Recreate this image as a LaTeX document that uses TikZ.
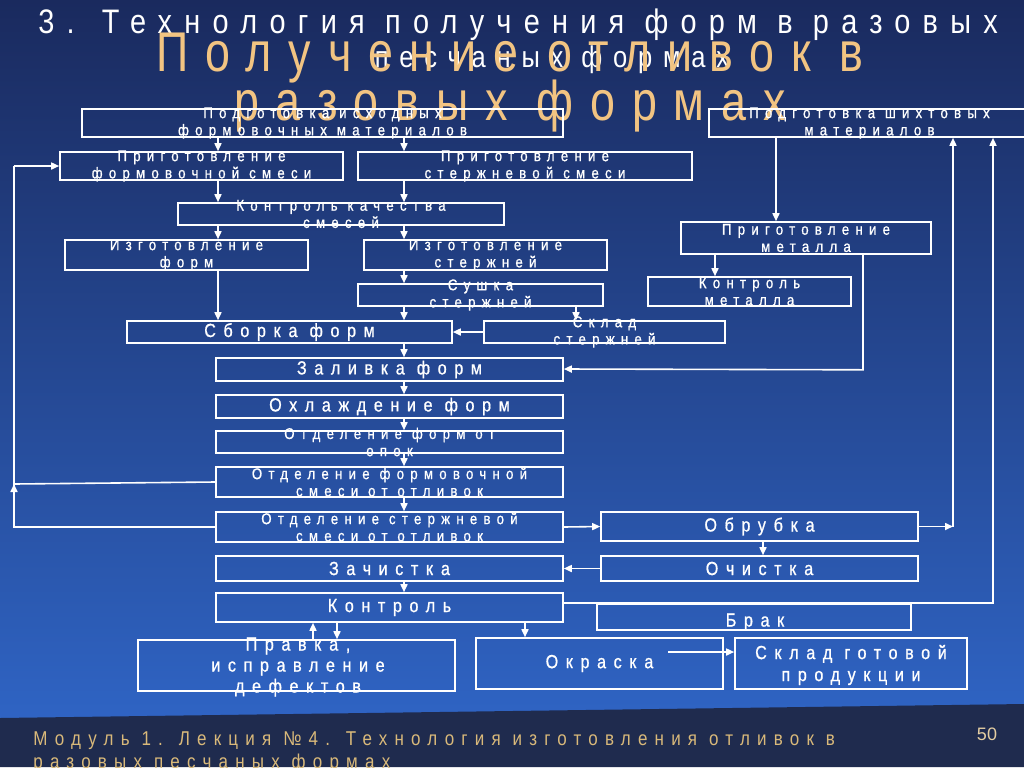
\documentclass[tikz,border=0pt]{standalone}
\usepackage{fontspec}
\setmainfont{Liberation Sans}
\newfontfamily\spc[LetterSpace=40,FakeStretch=0.85,FakeBold=0.8]{Liberation Sans}
\newfontfamily\spt[LetterSpace=36,FakeStretch=0.85]{Liberation Sans}
\newfontfamily\spo[LetterSpace=30,FakeStretch=0.8]{Liberation Sans}
\usetikzlibrary{fit,arrows.meta}
\definecolor{bgtop}{HTML}{1A2A5E}
\definecolor{bgbot}{HTML}{2F64C4}
\definecolor{foot}{HTML}{1F2B4E}
\definecolor{orng}{HTML}{F2C482}
\definecolor{tan}{HTML}{D9B97A}
\tikzset{
  box/.style={draw=white, line width=0.8pt, inner sep=0pt},
  txt/.style={text=white, align=center, font=\spc\fontsize{7.8}{8.6}\selectfont, inner sep=0pt},
  big/.style={text=white, align=center, font=\spc\fontsize{9.5}{10}\selectfont, inner sep=0pt},
  ln/.style={draw=white, line width=0.8pt},
  ar/.style={ln, -{Triangle[width=3.5pt,length=4pt]}},
}
\newcommand{\bx}[6]{\node[box, fit={(#2,#3)(#4,#5)}] (#1) {};
  \node[txt] (#1t) at (#1.center) {#6};}
\newcommand{\bxb}[6]{\node[box, fit={(#2,#3)(#4,#5)}] (#1) {};
  \node[big] (#1t) at (#1.center) {#6};}
\begin{document}
\begin{tikzpicture}[x=0.5pt,y=-0.5pt]
\useasboundingbox (0,0) rectangle (1024,767);
\shade[top color=bgtop, bottom color=bgbot] (0,0) rectangle (1024,722);
\fill[foot] (0,718) -- (1024,704) -- (1024,767) -- (0,767) -- cycle;
% titles
\node[anchor=west, text=white, font=\spt\fontsize{17}{18}\selectfont, inner sep=0pt] (t1) at (38,25) {3. Технология получения форм в разовых};
\node[text=white, font=\spt\fontsize{15}{16}\selectfont, inner sep=0pt] (t2) at (552,60) {песчаных формах};
\node[text=orng, font=\spo\fontsize{28}{28}\selectfont, inner sep=0pt] (t3) at (510,58) {Получение отливок в};
\node[text=orng, font=\spo\fontsize{28}{28}\selectfont, inner sep=0pt] (t4) at (510,106) {разовых формах};
% boxes
\bx{b1}{82}{109}{563}{137}{Подготовка исходных\\формовочных материалов}
\bx{b2}{709}{109}{1030}{137}{Подготовка шихтовых\\материалов}
\bx{b3}{60}{152}{343}{180}{Приготовление\\формовочной смеси}
\bx{b4}{358}{152}{692}{180}{Приготовление\\стержневой смеси}
\bx{b5}{178}{203}{504}{225}{Контроль качества\\смесей}
\bx{b6}{65}{240}{308}{270}{Изготовление\\форм}
\bx{b7}{364}{240}{607}{270}{Изготовление\\стержней}
\bx{b8}{681}{222}{931}{254}{Приготовление\\металла}
\bx{b9}{648}{277}{851}{306}{Контроль\\металла}
\bx{b10}{358}{284}{603}{306}{Сушка\\стержней}
\bxb{b11}{127}{321}{452}{343}{Сборка форм}
\bx{b12}{484}{321}{725}{343}{Склад\\стержней}
\bxb{b13}{216}{358}{563}{381}{Заливка форм}
\bxb{b14}{216}{395}{563}{418}{Охлаждение форм}
\bx{b15}{216}{431}{563}{453}{Отделение форм от\\опок}
\bx{b16}{216}{467}{563}{497}{Отделение формовочной\\смеси от отливок}
\bx{b17}{216}{512}{563}{542}{Отделение стержневой\\смеси от отливок}
\bxb{b18}{601}{512}{918}{541}{Обрубка}
\bxb{b19}{216}{556}{563}{581}{Зачистка}
\bxb{b20}{601}{556}{918}{581}{Очистка}
\bxb{b21}{216}{593}{563}{622}{Контроль}
\node[box, fit={(597,604)(911,630)}] (b22) {};
\node[big] at (755,622) {Брак};
\node[box, fit={(138,640)(455,691)}] (b23) {};
\node[big, font=\spc\fontsize{9.5}{10.5}\selectfont] at (298,667) {Правка,\\исправление\\дефектов};
\bxb{b24}{476}{638}{723}{689}{Окраска}
\node[box, fit={(735,638)(967,689)}] (b25) {};
\node[big, font=\spc\fontsize{9.5}{11}\selectfont] at (851,665) {Склад готовой\\продукции};
% x helpers
\coordinate (xa) at (218,0);
\coordinate (xb) at (404,0);
\coordinate (xc) at (576,0);
\coordinate (xd) at (776,0);
\coordinate (xe) at (715,0);
\coordinate (xf) at (863,0);
\coordinate (xg) at (763,0);
\coordinate (xr1) at (953,0);
\coordinate (xr2) at (993,0);
\coordinate (xl) at (14,0);
\coordinate (xp1) at (313,0);
\coordinate (xp2) at (337,0);
\coordinate (xo) at (525,0);
% connectors
\draw[ar] (b1.south -| xa) -- (b3.north -| xa);
\draw[ar] (b1.south -| xb) -- (b4.north -| xb);
\draw[ar] (b3.south -| xa) -- (b5.north -| xa);
\draw[ar] (b4.south -| xb) -- (b5.north -| xb);
\draw[ar] (b5.south -| xa) -- (b6.north -| xa);
\draw[ar] (b5.south -| xb) -- (b7.north -| xb);
\draw[ar] (b6.south -| xa) -- (b11.north -| xa);
\draw[ar] (b7.south -| xb) -- (b10.north -| xb);
\draw[ar] (b10.south -| xb) -- (b11.north -| xb);
\draw[ar] (b10.south -| xc) -- (b12.north -| xc);
\draw[ar] (b12.west) -- (b11.east);
\draw[ar] (b11.south -| xb) -- (b13.north -| xb);
\draw[ar] (b2.south -| xd) -- (b8.north -| xd);
\draw[ar] (b8.south -| xe) -- (b9.north -| xe);
\draw[ar] (b8.south -| xf) -- ++(0,115) -- (b13.east |- 0,369);
\draw[ar] (b13.south -| xb) -- (b14.north -| xb);
\draw[ar] (b14.south -| xb) -- (b15.north -| xb);
\draw[ar] (b15.south -| xb) -- (b16.north -| xb);
\draw[ar] (b16.south -| xb) -- (b17.north -| xb);
\draw[ar] (b17.east) -- (b18.west);
\draw[ar] (b18.south -| xg) -- (b20.north -| xg);
\draw[ar] (b20.west) -- (b19.east);
\draw[ar] (b19.south -| xb) -- (b21.north -| xb);
\draw[ar] (b18.east) -- (b18.east -| xr1);
\draw[ar] (b18.east -| xr1) -- (b2.south -| xr1);
\draw[ar] (b21.east |- 0,603) -- (xr2 |- 0,603) -- (b2.south -| xr2);
\draw[ln] (b17.west) -- (b17.west -| xl) -- (b3.west -| xl);
\draw[ar] (b17.west -| xl) -- (xl |- 0,484);
\draw[ar] (b3.west -| xl) -- (b3.west);
\draw[ln] (b16.west) -- (xl |- 0,484);
\draw[ar] (b23.north -| xp1) -- (b21.south -| xp1);
\draw[ar] (b21.south -| xp2) -- (b23.north -| xp2);
\draw[ar] (b21.south -| xo) -- (b24.north -| xo);
\draw[ar] (668,652) -- (b25.west |- 0,652);
% footer
\node[anchor=west, text=tan, align=left, font=\spt\fontsize{10}{11}\selectfont, inner sep=0pt] (f1) at (33,741) {Модуль 1. Лекция №4. Технология изготовления отливок в};
\node[anchor=west, text=tan, font=\spt\fontsize{10}{11}\selectfont, inner sep=0pt] (f2) at (33,763) {разовых песчаных формах};
\node[text=tan!70!white, font=\fontsize{9}{10}\selectfont, inner sep=0pt] (pg) at (987,734) {50};
\end{tikzpicture}
\end{document}
